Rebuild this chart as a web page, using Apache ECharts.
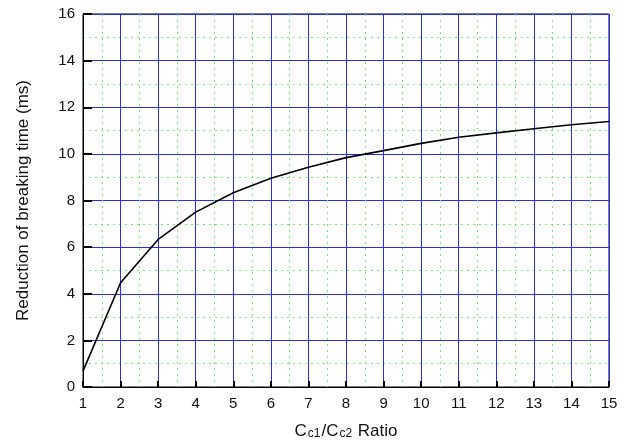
<!DOCTYPE html>
<html>
<head>
<meta charset="utf-8">
<script src="https://cdn.jsdelivr.net/npm/echarts@6/dist/echarts.min.js"></script>
<style>
html,body{margin:0;padding:0;background:#fff;}
#chart{width:628px;height:445px;}
</style>
</head>
<body>
<div id="chart"></div>
<script>
const ratios = [1,2,3,4,5,6,7,8,9,10,11,12,13,14,15];
const reduction = [0.68,4.47,6.33,7.5,8.33,8.95,9.43,9.84,10.14,10.45,10.71,10.9,11.08,11.25,11.39];
const yTitle = 'Reduction of breaking time (ms)';

const chart = echarts.init(document.getElementById('chart'));
const FONT = 'Liberation Sans, Arial, sans-serif';
chart.setOption({
  animation: false,
  backgroundColor: '#fff',
  grid: {left: 83, right: 19, top: 14, bottom: 57, show: true, borderColor: '#000', borderWidth: 1, backgroundColor: 'transparent'},
  xAxis: {
    type: 'value', min: 1, max: 15, interval: 1,
    name: '{b|C}{s|c1}{b|/C}{s|c2}{b| Ratio}',
    nameLocation: 'middle', nameGap: 36,
    nameTextStyle: {rich: {b: {fontSize: 17, fontFamily: FONT, color: '#111'}, s: {fontSize: 12, fontFamily: FONT, color: '#111', padding:[4,1,0,1]}}},
    axisLine: {show: true, onZero: false, lineStyle: {color: '#000', width: 1}},
    axisTick: {show: true, inside: true, length: 6, lineStyle: {color: '#000', width: 2}},
    axisLabel: {fontSize: 15, fontFamily: FONT, color: '#111', margin: 9},
    splitLine: {show: true, lineStyle: {color: '#2a2aff', width: 1}},
    minorTick: {show: false, splitNumber: 2},
    minorSplitLine: {show: true, lineStyle: {color: '#66ee66', type: [2,4], width: 1}}
  },
  yAxis: {
    type: 'value', min: 0, max: 16, interval: 2,
    name: yTitle, nameLocation: 'middle', nameGap: 51,
    nameTextStyle: {fontSize: 17, fontFamily: FONT, color: '#111'},
    axisLine: {show: true, onZero: false, lineStyle: {color: '#000', width: 1}},
    axisTick: {show: true, inside: true, length: 9, lineStyle: {color: '#000', width: 2}},
    minorTick: {show: false, splitNumber: 2},
    axisLabel: {fontSize: 15, fontFamily: FONT, color: '#111', margin: 8},
    splitLine: {show: true, lineStyle: {color: '#2a2aff', width: 1}},
    minorSplitLine: {show: true, lineStyle: {color: '#66ee66', type: [2,4], width: 1}}
  },
  series: [{
    type: 'line',
    data: ratios.map((r, i) => [r, reduction[i]]),
    showSymbol: false, symbol: 'none',
    lineStyle: {color: '#000', width: 1.6},
    z: 5
  }]
});
</script>
</body>
</html>
